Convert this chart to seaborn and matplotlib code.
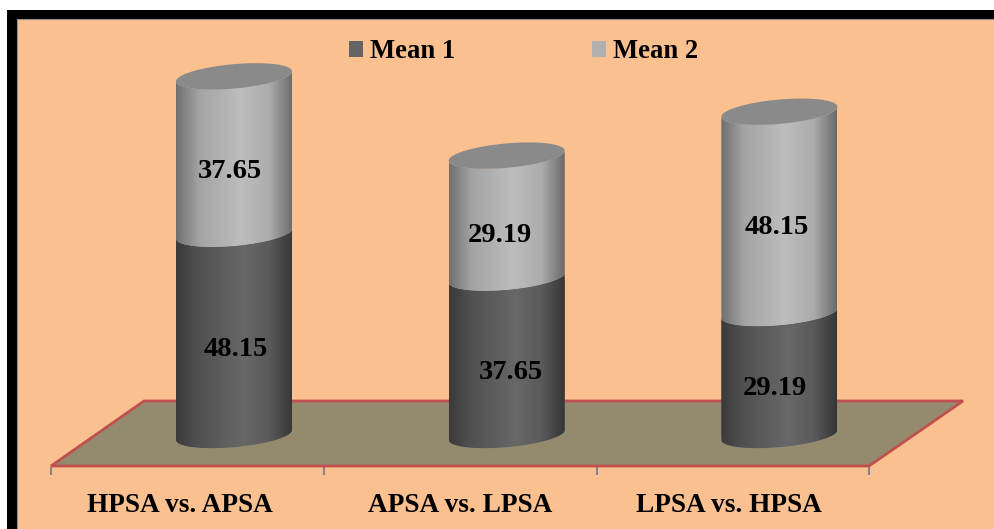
import numpy as np
import matplotlib
matplotlib.use("Agg")
import matplotlib.pyplot as plt
import seaborn as sns
from matplotlib.colors import LinearSegmentedColormap
from matplotlib.patches import Patch, Polygon, Rectangle
from matplotlib.path import Path
from matplotlib.transforms import Affine2D

categories = ["HPSA vs. APSA", "APSA vs. LPSA", "LPSA vs. HPSA"]
mean_1 = [48.15, 37.65, 29.19]
mean_2 = [37.65, 29.19, 48.15]
series_names = ["Mean 1", "Mean 2"]

sns.set_theme(style="white")
plt.rcParams["font.family"] = ["Liberation Serif", "DejaVu Serif"]
plt.rcParams["font.weight"] = "bold"
plt.rcParams["text.color"] = "black"

W, H = 994, 529
PEACH = "#FAC090"
FLOOR = "#948B6F"
FLOOR_EDGE = "#C0504D"
TICK_GREY = "#868686"
SWATCH = ["#646464", "#B0B0B0"]
CAP = "#8A8A8A"

# Page layout in pixels: frame corner, first category, spacing, baseline, vertical scale
AX_L, AX_T = 17, 19
X0, DX = 234.0, 272.7
Y0, SY = 435.0, 4.18


def dx_px(px):
    return (px - X0) / DX


def dy_px(py):
    return (Y0 - py) / SY


fig = plt.figure(figsize=(W / 100, H / 100), dpi=100, facecolor="white")
fig.add_artist(Rectangle((7 / W, 0), 1, 1 - 10 / H, transform=fig.transFigure,
                         facecolor="black", edgecolor="none", zorder=-5))
ax = fig.add_axes([AX_L / W, 0, (W - AX_L) / W, (H - AX_T) / H], facecolor=PEACH)

bar_w = 116 / DX
sns.barplot(x=categories, y=mean_1, color=SWATCH[0], width=bar_w, errorbar=None,
            saturation=1, ax=ax, zorder=2)
n_first = len(ax.patches)
sns.barplot(x=categories, y=mean_2, bottom=mean_1, color=SWATCH[1], width=bar_w,
            errorbar=None, saturation=1, ax=ax, zorder=2)
xlim = (dx_px(AX_L), dx_px(W))
ylim = (dy_px(H), dy_px(AX_T))

# Tilted ellipse used for the cylinder ends, in data units
MINOR = 12.2 / SY
TILT = 5.0 / SY


def arc(cx, half, cy, t0, t1, n=60):
    t = np.linspace(t0, t1, n)
    return np.column_stack([cx + half * np.cos(t), cy + MINOR * np.sin(t) + TILT * np.cos(t)])


def side_path(rect):
    cx = rect.get_x() + rect.get_width() / 2
    half = rect.get_width() / 2
    y0 = rect.get_y()
    y1 = y0 + rect.get_height()
    lower = arc(cx, half, y0, np.pi, 2 * np.pi)
    upper = arc(cx, half, y1, 2 * np.pi, np.pi)
    return Path(np.vstack([lower, upper, lower[:1]]))


dark_map = LinearSegmentedColormap.from_list(
    "dark", [(0, "#3A3A3A"), (0.18, "#505050"), (0.58, "#686868"), (0.8, "#5A5A5A"), (1, "#363636")])
light_map = LinearSegmentedColormap.from_list(
    "light", [(0, "#707070"), (0.2, "#A4A4A4"), (0.55, "#BDBDBD"), (0.8, "#ACACAC"), (1, "#6A6A6A")])

ramp = np.linspace(0, 1, 256)[None, :]
for i, rect in enumerate(ax.patches):
    clip = side_path(rect)
    rect.set_clip_path(clip, ax.transData)
    rect.set_edgecolor("none")
    cmap = dark_map if i < n_first else light_map
    x = rect.get_x()
    im = ax.imshow(ramp, cmap=cmap, aspect="auto", zorder=2 + (i >= n_first),
                   extent=(x, x + rect.get_width(), rect.get_y() - 6, rect.get_y() + rect.get_height() + 6))
    im.set_clip_path(clip, ax.transData)
    rect.set_zorder(2 + (i >= n_first))

    if i >= n_first:
        cx = x + rect.get_width() / 2
        top = rect.get_y() + rect.get_height()
        cap = arc(cx, rect.get_width() / 2, top, 0, 2 * np.pi, 120)
        ax.add_patch(Polygon(cap, closed=True, facecolor=CAP, edgecolor="none", zorder=4))

# Floor slab behind the cylinders
floor_px = [(51, 466), (869, 466), (963, 401), (144, 401)]
floor_xy = [(dx_px(px), dy_px(py)) for px, py in floor_px]
ax.add_patch(Polygon(floor_xy, closed=True, facecolor=FLOOR, edgecolor=FLOOR_EDGE,
                     linewidth=2.0, joinstyle="miter", zorder=1))
for px in (51, 324, 597, 869):
    ax.plot([dx_px(px)] * 2, [dy_px(467), dy_px(475)], color=TICK_GREY, lw=1.5,
            solid_capstyle="butt", zorder=0.9)

# Value labels sit slightly below the middle of each segment
shift_1 = [(2, -15), (4, -16), (-5, -15)]
shift_2 = [(-4, -16), (-7, -19), (-3, -15)]
for i in range(len(categories)):
    ax.annotate(f"{mean_1[i]:.2f}", (i, mean_1[i] / 2), xytext=shift_1[i],
                textcoords="offset pixels", ha="center", va="center",
                fontsize=20.5, fontweight="bold", color="black", zorder=6)
    ax.annotate(f"{mean_2[i]:.2f}", (i, mean_1[i] + mean_2[i] / 2), xytext=shift_2[i],
                textcoords="offset pixels", ha="center", va="center",
                fontsize=20.5, fontweight="bold", color="black", zorder=6)

ax.set_xlim(*xlim)
ax.set_ylim(*ylim)
ax.set_yticks([])
ax.set_ylabel("")
ax.set_xticks(range(len(categories)))
ax.set_xticklabels(categories, fontsize=19.6, fontweight="bold", color="black")
ax.tick_params(axis="x", length=0, pad=-26)
for lab, shift in zip(ax.get_xticklabels(), (-54, -47, -50)):
    lab.set_transform(lab.get_transform() + Affine2D().translate(shift, 0))

for side in ("right", "bottom"):
    ax.spines[side].set_visible(False)
for side in ("left", "top"):
    ax.spines[side].set_color("#8E8E8E")
    ax.spines[side].set_linewidth(0.8)

handles = [Patch(facecolor=c, edgecolor="none", label=n) for c, n in zip(SWATCH, series_names)]
leg = ax.legend(handles=handles, ncol=2, frameon=False, loc="center",
                bbox_to_anchor=(523.5 / W, 1 - 52 / H), bbox_transform=fig.transFigure,
                prop={"family": "Liberation Serif", "weight": "bold", "size": 19.2},
                handlelength=0.54, handleheight=0.55, handletextpad=0.26,
                columnspacing=5.1, borderpad=0, borderaxespad=0)
for t in leg.get_texts():
    t.set_color("black")

fig.savefig("out.png", dpi=100, facecolor="white")
